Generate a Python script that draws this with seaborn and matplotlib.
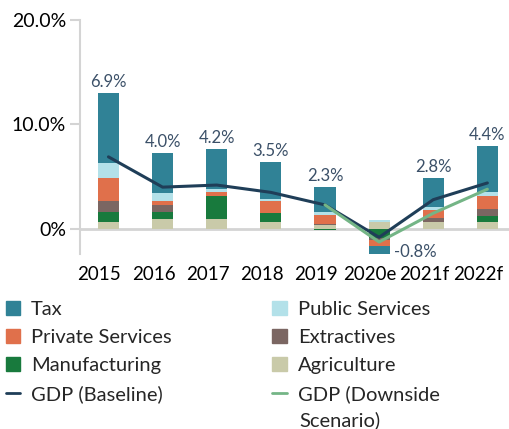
import numpy as np
import matplotlib
matplotlib.use("Agg")
import matplotlib.pyplot as plt
from matplotlib.patches import Patch
from matplotlib.lines import Line2D
from matplotlib.ticker import FuncFormatter
from matplotlib.transforms import ScaledTranslation
import seaborn as sns

years = ['2015', '2016', '2017', '2018', '2019', '2020e', '2021f', '2022f']

# contributions to growth, percentage points (stacked from bottom)
agriculture = [0.67, 0.96, 0.96, 0.67, 0.40, 0.67, 0.70, 0.67]
manufacturing = [0.96, 0.67, 2.20, 0.86, -0.10, -0.86, 0.00, 0.57]
extractives = [1.05, 0.67, 0.00, 0.00, 0.10, -0.19, 0.38, 0.67]
private_services = [2.20, 0.38, 0.38, 1.15, 0.80, -0.58, 0.77, 1.28]
public_services = [1.44, 0.77, 0.29, 0.19, 0.35, 0.19, 0.25, 0.35]
tax = [6.68, 3.83, 3.83, 3.54, 2.40, -0.77, 2.78, 4.40]

gdp_baseline = [6.9, 4.0, 4.2, 3.5, 2.3, -0.8, 2.8, 4.4]
gdp_downside = [np.nan, np.nan, np.nan, np.nan, 2.3, -1.25, 1.5, 3.8]

layers = [
    ('Agriculture', agriculture, '#c9caa9'),
    ('Manufacturing', manufacturing, '#187a3d'),
    ('Extractives', extractives, '#7b6662'),
    ('Private Services', private_services, '#e0704b'),
    ('Public Services', public_services, '#b3e1e9'),
    ('Tax', tax, '#308296'),
]
c_base = '#1f3e58'
c_down = '#74b586'
c_label = '#3b5068'

sns.set_theme(style='white')
plt.rcParams['font.family'] = ['Lato', 'DejaVu Sans']

fig = plt.figure(figsize=(5.09, 4.29), dpi=100)
ax = fig.add_axes([80 / 509, 1 - 254 / 429, 1 - 80 / 509, 234 / 429])

pos_bottom = np.zeros(len(years))
neg_bottom = np.zeros(len(years))
for name, vals, col in layers:
    v = np.array(vals)
    bottom = np.where(v >= 0, pos_bottom, neg_bottom)
    sns.barplot(x=years, y=v, bottom=bottom, color=col, saturation=1,
                width=0.39, ax=ax, linewidth=0)
    pos_bottom = pos_bottom + np.where(v > 0, v, 0)
    neg_bottom = neg_bottom + np.where(v < 0, v, 0)

xs = np.arange(len(years))
sns.lineplot(x=xs, y=gdp_baseline, color=c_base, linewidth=2.2, ax=ax)
sns.lineplot(x=xs, y=gdp_downside, color=c_down, linewidth=2.2, ax=ax)

# value labels
for i, val in enumerate(gdp_baseline):
    if val >= 0:
        ax.annotate(f'{val:.1f}%', (xs[i], pos_bottom[i]), xytext=(0, 2),
                    textcoords='offset points', ha='center', va='bottom',
                    fontsize=12, color=c_label)
    else:
        ax.annotate(f'{val:.1f}%', (xs[i] + 0.2, -2.25), xytext=(3, 0),
                    textcoords='offset points', ha='left', va='center',
                    fontsize=12, color=c_label)

ax.axhline(0, color='#d4d4d4', linewidth=2, zorder=0.5)
ax.set_ylim(-2.4, 20)
ax.set_xlim(-0.526, 7.4)
ax.set_yticks([0, 10, 20])
ax.yaxis.set_major_formatter(FuncFormatter(lambda v, p: '0%' if v == 0 else f'{v:.1f}%'))
ax.tick_params(axis='y', left=True, length=7, width=1.5, color='#d4d4d4',
               labelsize=14, labelcolor='black', pad=3)
ax.tick_params(axis='x', bottom=False, labelsize=13.5, labelcolor='black', pad=3)
shift = ScaledTranslation(-9 / 100, 0, fig.dpi_scale_trans)
for lab in ax.get_xticklabels():
    lab.set_transform(lab.get_transform() + shift)
for s in ['top', 'right', 'bottom']:
    ax.spines[s].set_visible(False)
ax.spines['left'].set_color('#d4d4d4')
ax.spines['left'].set_linewidth(1.5)
ax.set_xlabel('')
ax.set_ylabel('')

cols = dict((n, c) for n, _, c in layers)
handles = [
    Patch(color=cols['Tax'], label='Tax'),
    Patch(color=cols['Private Services'], label='Private Services'),
    Patch(color=cols['Manufacturing'], label='Manufacturing'),
    Line2D([], [], color=c_base, linewidth=2, label='GDP (Baseline)'),
    Patch(color=cols['Public Services'], label='Public Services'),
    Patch(color=cols['Extractives'], label='Extractives'),
    Patch(color=cols['Agriculture'], label='Agriculture'),
    Line2D([], [], color=c_down, linewidth=2, label='GDP (Downside'),
]
leg = fig.legend(handles=handles, ncol=2, loc='upper left',
                 bbox_to_anchor=(6 / 509, 1 - 301 / 429),
                 frameon=False, fontsize=14.5, handlelength=0.7, handleheight=0.7,
                 handletextpad=0.55, columnspacing=5.0, labelspacing=0.54,
                 borderpad=0, borderaxespad=0)
# wrapped second line of the downside label
fig.text(299 / 509, 1 - 420 / 429, 'Scenario)', fontsize=14.5, va='center', ha='left')

fig.savefig('out.png', dpi=100)
